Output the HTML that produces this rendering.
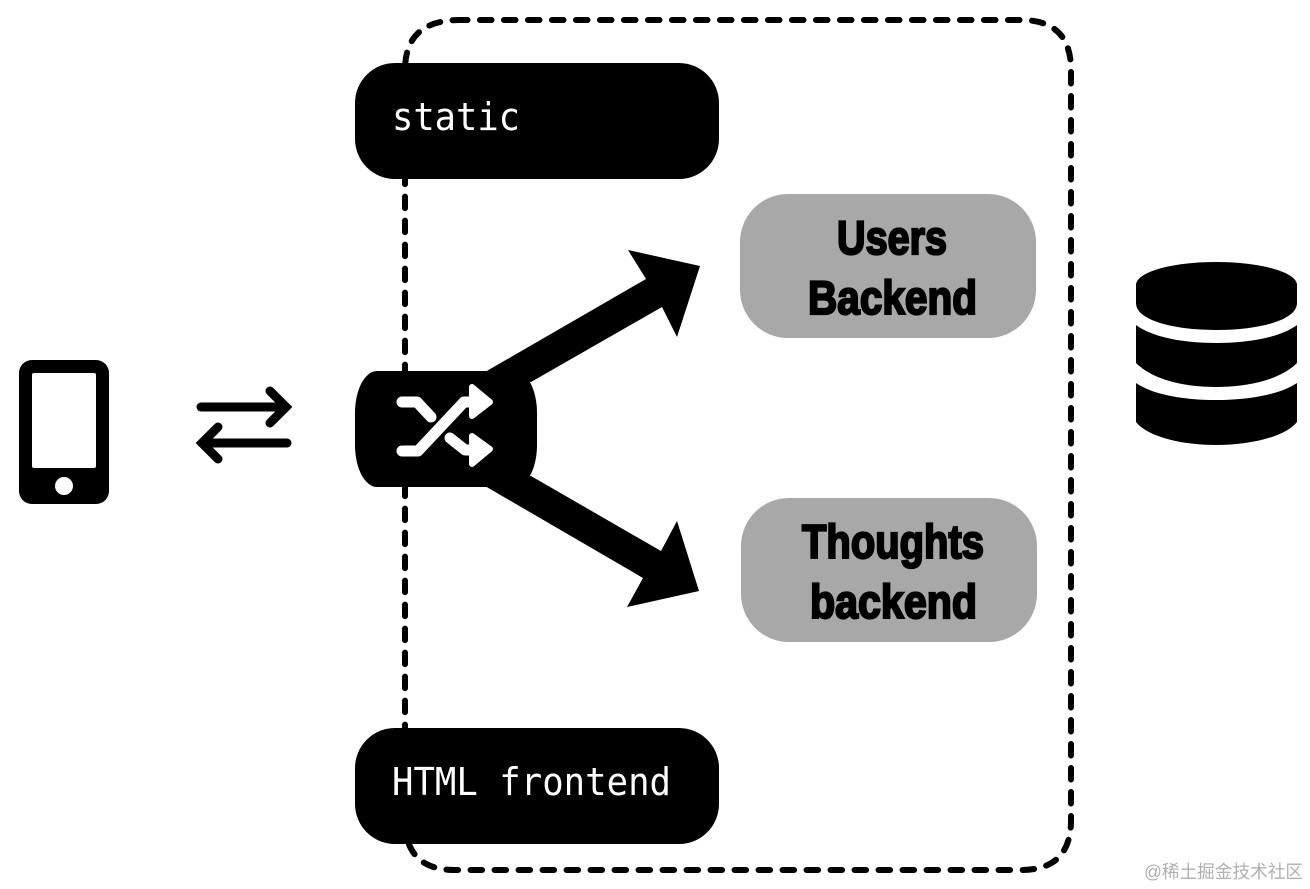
<!DOCTYPE html>
<html><head><meta charset="utf-8"><style>
html,body{margin:0;padding:0;background:#fff}
svg{display:block}
.m{font-family:"DejaVu Sans Mono","Liberation Mono",monospace;font-size:38px;fill:#fff}
.b{font-family:"Liberation Sans Narrow","Liberation Sans",sans-serif;font-weight:700;font-size:47px;fill:#000;stroke:#000;stroke-width:2.2px;stroke-linejoin:miter}
.w{font-family:"Liberation Sans","Noto Sans CJK SC",sans-serif;font-size:18px;fill:#b0b0b0}
</style></head><body>
<svg width="1310" height="889" viewBox="0 0 1310 889" xmlns="http://www.w3.org/2000/svg">
<rect width="1310" height="889" fill="#fff"/>
<!-- dashed container -->
<path d="M460 20 H1021 Q1071 20 1071 70 V820 Q1071 870 1021 870 H455 Q405 870 405 820 V70 Q405 20 460 20 Z" fill="none" stroke="#000" stroke-width="6" stroke-dasharray="11.5 12.5" stroke-dashoffset="4" stroke-linecap="round"/>
<!-- boxes -->
<rect x="355" y="63" width="364" height="116" rx="40" ry="40" fill="#000"/>
<rect x="355" y="728" width="364" height="116" rx="40" ry="40" fill="#000"/>
<rect x="740" y="194" width="296" height="144" rx="48" ry="48" fill="#a8a8a8"/>
<rect x="741" y="498" width="296" height="144" rx="48" ry="48" fill="#a8a8a8"/>
<text class="m" x="392" y="130" textLength="128" lengthAdjust="spacingAndGlyphs">static</text>
<text class="m" x="392" y="795" textLength="279" lengthAdjust="spacingAndGlyphs">HTML frontend</text>
<text class="b" x="837" y="254" textLength="110" lengthAdjust="spacingAndGlyphs">Users</text>
<text class="b" x="808" y="314" textLength="169" lengthAdjust="spacingAndGlyphs">Backend</text>
<text class="b" x="802" y="558" textLength="182" lengthAdjust="spacingAndGlyphs">Thoughts</text>
<text class="b" x="810" y="618" textLength="167" lengthAdjust="spacingAndGlyphs">backend</text>
<!-- big arrows -->
<polygon points="485,372 646,279 628,250 700,266 677,337 662,307 531,382" fill="#000"/>
<polygon points="531,476 661,551 677,521 699,591 627,607 643,578 485,486" fill="#000"/>
<!-- router -->
<rect x="355" y="371" width="182" height="116" rx="22" ry="42" fill="#000"/>
<!-- shuffle -->
<g fill="none" stroke="#fff" stroke-width="11" stroke-linejoin="round" stroke-linecap="round">
<path d="M402 402 H417 L431 417" />
<path d="M402 451 H418 L464 402 H474"/>
<path d="M450 438 L465 450 H474"/>
</g>
<g fill="#fff" stroke="#fff" stroke-width="6" stroke-linejoin="round">
<polygon points="472,387 490,402 472,416"/>
<polygon points="472,436 490,449 472,464"/>
</g>
<!-- phone -->
<rect x="19" y="360" width="90" height="144" rx="13" fill="#000"/>
<rect x="32" y="373" width="64" height="95" rx="2" fill="#fff"/>
<circle cx="64" cy="486" r="9" fill="#fff"/>
<!-- double arrows -->
<g fill="none" stroke="#000" stroke-width="9" stroke-linecap="round" stroke-linejoin="miter">
<path d="M201 407 H286"/>
<path d="M270 391 L286 407 L270 423"/>
<path d="M287 443 H202"/>
<path d="M218 427 L202 443 L218 459"/>
</g>
<!-- database -->
<g fill="#000">
<path d="M1136 285 C1136 272 1172 262 1216 262 C1260 262 1297 272 1297 285 V303 C1297 320 1260 330 1216 330 C1172 330 1136 320 1136 303 Z"/>
<path d="M1136 325 C1152 337 1182 343 1216 343 C1250 343 1281 337 1297 325 V363 C1281 379 1250 387 1216 387 C1182 387 1152 379 1136 363 Z"/>
<path d="M1136 383 C1152 394 1182 400 1216 400 C1250 400 1281 394 1297 383 V422 C1285 437 1250 445 1216 445 C1182 445 1148 437 1136 422 Z"/>
</g>
<text class="w" x="1144" y="878" textLength="159" lengthAdjust="spacingAndGlyphs">@稀土掘金技术社区</text>
</svg>
</body></html>
